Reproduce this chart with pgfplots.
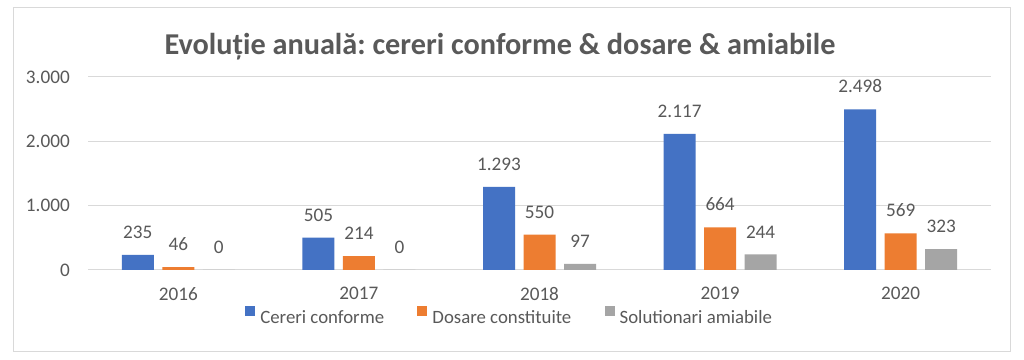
\documentclass[border=0pt]{standalone}
\usepackage{pgfplots}
\pgfplotsset{compat=1.18}
\usepackage{fontspec}
\setmainfont{Carlito}
\frenchspacing
\definecolor{cblue}{HTML}{4472C4}
\definecolor{corange}{HTML}{ED7D31}
\definecolor{cgray}{HTML}{A5A5A5}
\definecolor{ctext}{HTML}{595959}
\definecolor{cgrid}{HTML}{D9D9D9}
\pgfplotsset{/pgf/number format/.cd, assume math mode=true, use comma, 1000 sep={.}}
\newcommand{\lfont}{\fontsize{14.4}{17}\selectfont}
\begin{document}
\begin{tikzpicture}
\path[fill=white] (0,0) rectangle (768pt,270pt);
\draw[cgrid, line width=0.75pt] (9.75pt,6pt) rectangle (757.5pt,264pt);
\node[anchor=base, font=\bfseries\fontsize{22.7}{27}\selectfont, text=ctext] at (375pt,228.75pt) {Evoluție anuală: cereri conforme \& dosare \& amiabile};
\begin{axis}[
  at={(66pt,67.5pt)}, anchor=south west,
  width=677.25pt, height=144.75pt, scale only axis,
  ybar=6.375pt, bar width=24pt,
  xmin=-0.5, xmax=4.5, ymin=0, ymax=3000,
  enlargelimits=false,
  xtick={0,1,2,3,4}, xticklabels={2016,2017,2018,2019,2020},
  ytick={0,1000,2000,3000},
  ymajorgrids, grid style={cgrid, line width=0.75pt},
  axis line style={draw=none}, major tick length=0pt,
  tick label style={font=\lfont, text=ctext},
  yticklabel style={anchor=east, inner sep=0pt, xshift=-13.5pt},
  xticklabel style={anchor=north, inner sep=0pt, yshift=-12.75pt},
  nodes near coords,
  every node near coord/.append style={font=\lfont, text=ctext, anchor=south, inner sep=0pt, yshift=12pt},
  legend columns=3,
  legend style={at={(0.1739,-0.238)}, anchor=west, draw=none, fill=none, inner sep=0pt,
    font=\fontsize{14.1}{17}\selectfont, text=ctext, column sep=3.75pt, nodes={inner sep=0pt},
    /tikz/every even column/.append style={column sep=25pt}},
  legend image code/.code={\fill[#1] (0pt,1.5pt) rectangle (7.5pt,9pt);},
]
\addplot[fill=cblue, draw=none] coordinates {(0,235) (1,505) (2,1293) (3,2117) (4,2498)};
\addplot[fill=corange, draw=none] coordinates {(0,46) (1,214) (2,550) (3,664) (4,569)};
\addplot[fill=cgray, draw=none] coordinates {(0,0) (1,0) (2,97) (3,244) (4,323)};
\legend{Cereri conforme, Dosare constituite, Solutionari amiabile}
\end{axis}
\end{tikzpicture}
\end{document}
